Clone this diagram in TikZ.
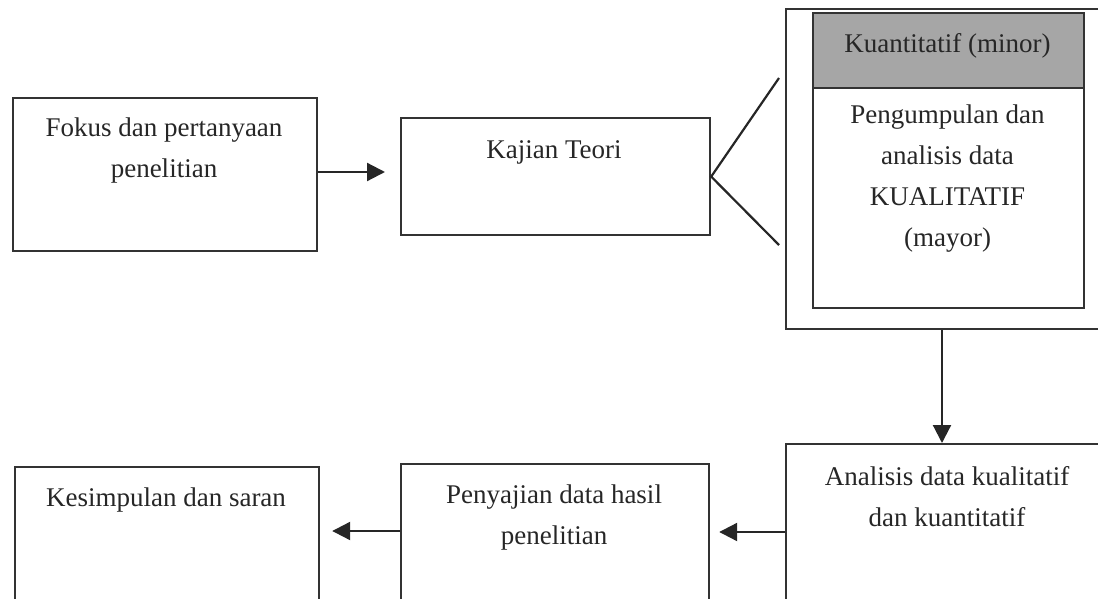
\documentclass[tikz,border=0pt]{standalone}
\usepackage{fontspec}
\setmainfont{Liberation Serif}
\usetikzlibrary{arrows.meta}
\begin{document}
\begin{tikzpicture}[x=1pt,y=-1pt,
  box/.style={draw=black!80, line width=2.2pt, inner sep=0pt, anchor=north west},
  txt/.style={text=black!85, align=center, font=\fontsize{27}{41}\selectfont, inner sep=0pt},
  link/.style={draw=black!85, line width=2.2pt},
  flow/.style={link, -{Triangle[length=18pt,width=18pt]}}]
  \useasboundingbox (0,0) rectangle (1098,599);
  \clip (0,0) rectangle (1098,599);

  % upper row
  \node[box, minimum width=304pt, minimum height=153pt] (fokus) at (12,97) {};
  \node[txt] (fokust) at (164,151) {Fokus dan pertanyaan\\penelitian};

  \node[box, minimum width=309pt, minimum height=117pt] (kajian) at (400,117) {};
  \node[txt] (kajiant) at (554,152) {Kajian Teori};

  % method frame with its inner panel
  \node[box, minimum width=340pt, minimum height=320pt] (frame) at (785,8) {};
  \node[box, minimum width=271pt, minimum height=295pt] (inner) at (812,12) {};
  \node[box, fill=black!35, minimum width=271pt, minimum height=75pt] (minor) at (812,12) {};
  \node[txt] (minort) at (947.5,46) {Kuantitatif (minor)};
  \node[txt] (mayort) at (947.5,179) {Pengumpulan dan\\analisis data\\KUALITATIF\\(mayor)};

  % lower row
  \node[box, minimum width=340pt, minimum height=180pt] (analisis) at (785,443) {};
  \node[txt] (analisist) at (947,497) {Analisis data kualitatif\\dan kuantitatif};

  \node[box, minimum width=308pt, minimum height=160pt] (penyajian) at (400,463) {};
  \node[txt] (penyajiant) at (554,518) {Penyajian data hasil\\penelitian};

  \node[box, minimum width=304pt, minimum height=160pt] (kesimpulan) at (14,466) {};
  \node[txt] (kesimpulant) at (166,500) {Kesimpulan dan saran};

  % connectors
  \coordinate (fanTop) at (779,78);
  \coordinate (fanBot) at (779,245);
  \draw[link] (fanTop) -- (kajian.east) -- (fanBot);

  \draw[flow, shorten >=15pt] (fokus.east |- 0,172) -- (kajian.west |- 0,172);
  \draw[flow] (frame.south -| 942,0) -- (analisis.north -| 942,0);
  \draw[flow, shorten >=9pt] (analisis.west |- 0,532) -- (penyajian.east |- 0,532);
  \draw[flow, shorten >=12pt] (penyajian.west |- 0,531) -- (kesimpulan.east |- 0,531);
\end{tikzpicture}
\end{document}
